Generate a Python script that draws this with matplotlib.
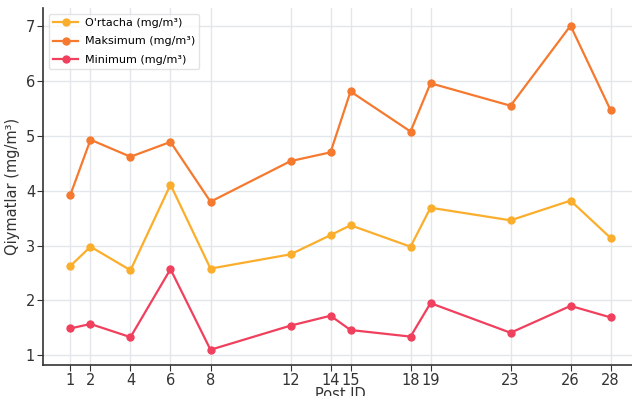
import matplotlib
matplotlib.use("Agg")
import matplotlib.pyplot as plt

post_ids = [1, 2, 4, 6, 8, 12, 14, 15, 18, 19, 23, 26, 28]
ortacha = [2.63, 2.98, 2.55, 4.11, 2.58, 2.84, 3.19, 3.37, 2.98, 3.69, 3.46, 3.82, 3.14]
maksimum = [3.93, 4.93, 4.62, 4.89, 3.80, 4.54, 4.70, 5.81, 5.08, 5.96, 5.55, 7.01, 5.47]
minimum = [1.49, 1.57, 1.33, 2.57, 1.10, 1.54, 1.72, 1.46, 1.34, 1.95, 1.41, 1.90, 1.69]

fig = plt.figure(figsize=(6.32, 3.96), dpi=100)
# axes runs a little past the right edge, like the cropped original
ax = fig.add_axes([0.0688, 0.078, 0.940, 0.9015])

ax.plot(post_ids, ortacha, marker="o", markersize=5, linewidth=1.6,
        color="#FBAE2C", label="O'rtacha (mg/m³)")
ax.plot(post_ids, maksimum, marker="o", markersize=5, linewidth=1.6,
        color="#F5792E", label="Maksimum (mg/m³)")
ax.plot(post_ids, minimum, marker="o", markersize=5, linewidth=1.6,
        color="#F0405E", label="Minimum (mg/m³)")

ax.set_xticks(post_ids)
ax.set_xticklabels([str(p) for p in post_ids])
ax.set_yticks([1, 2, 3, 4, 5, 6, 7])
ax.set_xlim(-0.35, 29.35)
ax.set_ylim(0.82, 7.33)
ax.grid(True, color="#e3e6ea", linewidth=1)
ax.set_axisbelow(True)
for s in ["top", "right"]:
    ax.spines[s].set_visible(False)
for s in ["left", "bottom"]:
    ax.spines[s].set_color("#333333")
    ax.spines[s].set_linewidth(1.2)
ax.tick_params(labelsize=10.5, colors="#333333", length=4, pad=2)
ax.set_xlabel("Post ID", fontsize=10.5, color="#333333", labelpad=-1)
ax.set_ylabel("Qiymatlar (mg/m³)", fontsize=10.5, color="#333333")
ax.legend(loc="upper left", fontsize=8, frameon=True, edgecolor="#dddddd",
          borderaxespad=0.5, handlelength=2.2, labelspacing=0.75,
          handletextpad=0.6)

fig.savefig("out.png", dpi=100)
